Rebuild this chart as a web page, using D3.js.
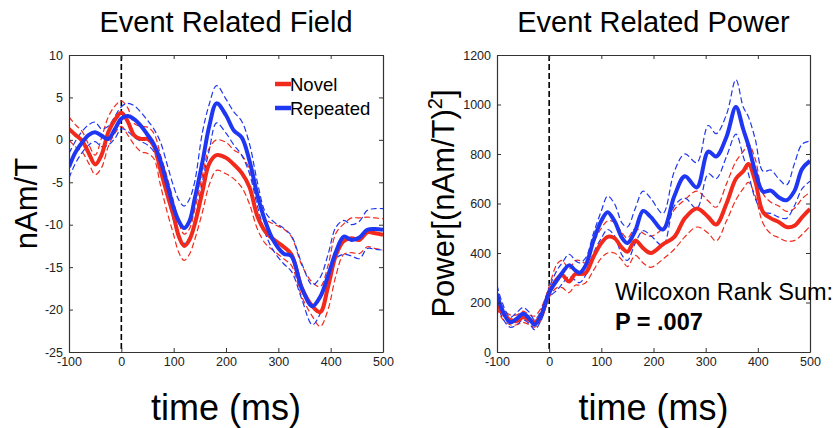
<!DOCTYPE html>
<html>
<head>
<meta charset="utf-8">
<script src="https://cdn.jsdelivr.net/npm/d3@7"></script>
<style>
  html, body { margin: 0; padding: 0; background: #fff; }
  svg { display: block; font-family: "Liberation Sans", Arial, sans-serif; }
</style>
</head>
<body>
<svg id="chart" width="836" height="428"></svg>
<script>
'use strict';

/* ---- Event Related Field (left) ---- */
var erfTime = [-100, -88, -75, -62, -50, -38, -25, -12, 0, 12, 25, 38, 50, 62, 75, 88, 100, 110, 120, 130,
  140, 155, 168, 182, 200, 215, 230, 245, 260, 275, 290, 310, 325, 345, 365, 380, 395, 410, 425, 440,
  455, 470, 485, 500];
var erfNovel = [1.3, 0.6, -0.1, -1.6, -2.9, -1.8, 0.9, 2.4, 3.2, 2.2, 0.5, 0.1, 0.1, -0.7, -3.6, -6.5, -9.0, -11.4, -12.5, -11.8,
  -10.0, -6.1, -2.8, -1.8, -2.1, -2.9, -3.9, -5.6, -9.0, -10.8, -11.7, -12.6, -13.5, -17.5, -19.6, -20.3, -17.3, -13.6, -11.9, -11.6,
  -11.8, -10.9, -11.0, -11.2];
var erfNovelHi = [2.7, 1.8, 1.0, -0.6, -1.8, 0.2, 2.7, 4.0, 4.6, 3.8, 1.9, 1.6, 1.5, 0.8, -1.8, -4.5, -7.3, -9.8, -11.1, -10.5,
  -8.3, -4.2, -1.0, 0.0, -0.3, -1.2, -1.8, -3.5, -7.0, -9.3, -9.9, -10.5, -11.4, -14.8, -16.8, -17.3, -14.8, -11.0, -9.9, -9.2,
  -9.2, -9.1, -9.2, -9.3];
var erfNovelLo = [0.0, -0.8, -1.4, -2.8, -4.1, -3.3, -0.8, 0.8, 1.6, 0.6, -0.6, -1.4, -1.6, -2.2, -5.4, -8.6, -11.2, -13.3, -14.2, -13.5,
  -11.8, -8.5, -5.3, -3.6, -4.0, -4.6, -5.6, -7.6, -10.5, -12.2, -13.0, -14.0, -14.8, -18.5, -20.8, -22.0, -20.0, -16.0, -13.5, -13.3,
  -13.4, -12.6, -12.8, -13.0];
var erfRepeated = [-3.2, -1.5, -0.3, 0.6, 0.9, 0.5, 0.1, 1.3, 2.5, 2.8, 2.4, 1.6, 0.6, -0.5, -2.5, -5.3, -8.0, -9.6, -10.4, -9.6,
  -7.0, -2.6, 1.6, 4.3, 2.9, 1.1, 0.3, -2.5, -6.5, -9.6, -11.8, -13.4, -13.7, -17.5, -19.6, -18.5, -16.0, -13.2, -11.4, -11.8,
  -11.5, -10.6, -10.5, -10.6];
var erfRepeatedHi = [-1.6, -0.2, 1.0, 1.8, 2.1, 1.3, 1.6, 2.8, 3.9, 4.3, 4.0, 3.2, 2.3, 1.3, -0.3, -3.0, -5.5, -7.1, -7.8, -7.0,
  -5.0, 0.9, 4.2, 6.4, 4.8, 3.3, 2.2, -0.5, -5.0, -8.5, -9.6, -10.4, -11.3, -14.6, -17.1, -16.2, -13.5, -10.3, -9.5, -10.0,
  -9.6, -8.3, -8.1, -8.1];
var erfRepeatedLo = [-4.5, -2.8, -1.5, -0.6, -0.2, -0.8, -0.6, 0.2, 1.3, 1.0, 0.3, -0.2, -0.6, -1.4, -3.8, -6.8, -9.5, -11.6, -12.2, -11.5,
  -9.5, -4.9, -1.2, 2.0, 0.8, -0.6, -1.8, -4.0, -7.8, -11.0, -13.0, -14.6, -15.5, -18.8, -21.8, -20.5, -17.8, -14.0, -13.5, -13.7,
  -14.0, -12.8, -12.9, -13.0];

/* ---- Event Related Power (right) ---- */
var erpTime = [-100, -90, -75, -62, -50, -38, -28, -15, 0, 15, 25, 38, 50, 58, 70, 85, 100, 112, 125, 140,
  150, 165, 180, 195, 218, 240, 260, 283, 305, 320, 340, 358, 372, 382, 395, 410, 425, 440, 455, 470,
  485, 500];
var erpNovel = [200, 160, 130, 125, 140, 130, 120, 150, 240, 295, 310, 285, 315, 315, 320, 385, 440, 465, 460, 420,
  405, 450, 420, 400, 435, 465, 540, 580, 545, 515, 600, 700, 730, 760, 690, 565, 540, 525, 505, 510,
  545, 578];
var erpNovelHi = [225, 180, 150, 150, 165, 150, 145, 180, 265, 355, 370, 335, 370, 370, 360, 440, 500, 530, 525, 480,
  460, 500, 480, 468, 500, 575, 615, 650, 610, 585, 680, 770, 810, 840, 780, 640, 605, 590, 568, 580,
  620, 645];
var erpNovelLo = [180, 135, 110, 110, 120, 110, 100, 130, 220, 260, 260, 240, 270, 270, 280, 330, 380, 400, 400, 370,
  345, 390, 360, 342, 375, 415, 465, 505, 480, 448, 530, 615, 660, 685, 630, 520, 478, 462, 448, 450,
  475, 508];
var erpRepeated = [235, 170, 120, 135, 155, 135, 110, 150, 240, 290, 320, 350, 330, 320, 350, 450, 530, 565, 530, 460,
  440, 490, 570, 545, 495, 630, 710, 665, 810, 790, 870, 990, 900, 835, 730, 648, 652, 625, 613, 650,
  740, 772];
var erpRepeatedHi = [270, 200, 140, 160, 180, 160, 130, 170, 260, 330, 360, 395, 370, 360, 380, 480, 570, 630, 600, 520,
  505, 580, 650, 620, 560, 730, 800, 765, 915, 882, 960, 1100, 990, 950, 860, 730, 735, 700, 675, 760,
  840, 852];
var erpRepeatedLo = [200, 140, 100, 110, 130, 115, 90, 130, 220, 250, 275, 305, 290, 280, 310, 400, 460, 495, 470, 390,
  370, 440, 490, 470, 430, 590, 622, 580, 720, 700, 790, 880, 790, 720, 620, 565, 560, 545, 540, 590,
  660, 690];

var timeTicks = [-100, 0, 100, 200, 300, 400, 500];
var erfTicks = [-25, -20, -15, -10, -5, 0, 5, 10];
var erpTicks = [0, 200, 400, 600, 800, 1000, 1200];
var legendLabels = ['Novel', 'Repeated'];

var RED = '#f22a1c';
var BLUE = '#1f36f2';

var svg = d3.select('#chart');

function zip(ts, vs) {
  return ts.map(function (t, i) { return [t, vs[i]]; });
}

// plain matlab-style numbers: hyphen minus, no thousands comma
function plain(d) {
  return String(d);
}

/**
 * Draws one MATLAB-like panel with box axes, inward ticks and curves.
 */
function drawPanel(opts) {
  var x = d3.scaleLinear().domain([-100, 500]).range([opts.left, opts.right]);
  var y = d3.scaleLinear().domain(opts.yDomain).range([opts.bottom, opts.top]);
  var g = svg.append('g');
  var clipId = 'clip-' + opts.id;

  g.append('clipPath').attr('id', clipId)
    .append('rect')
    .attr('x', opts.left).attr('y', opts.top)
    .attr('width', opts.right - opts.left).attr('height', opts.bottom - opts.top);

  var line = d3.line()
    .x(function (d) { return x(d[0]); })
    .y(function (d) { return y(d[1]); })
    .curve(d3.curveCatmullRom.alpha(0.5));

  var plot = g.append('g').attr('clip-path', 'url(#' + clipId + ')');

  // zero line
  plot.append('line')
    .attr('x1', x(0)).attr('x2', x(0))
    .attr('y1', opts.top).attr('y2', opts.bottom)
    .attr('stroke', '#000').attr('stroke-width', 1.6)
    .attr('stroke-dasharray', '6,3');

  opts.bands.forEach(function (b) {
    plot.append('path')
      .datum(zip(opts.time, b.values))
      .attr('d', line)
      .attr('fill', 'none')
      .attr('stroke', b.color)
      .attr('stroke-width', 1.2)
      .attr('stroke-dasharray', '6,3');
  });

  opts.means.forEach(function (m) {
    plot.append('path')
      .datum(zip(opts.time, m.values))
      .attr('d', line)
      .attr('fill', 'none')
      .attr('stroke', m.color)
      .attr('stroke-width', 4)
      .attr('stroke-linejoin', 'round');
  });

  // box axes, ticks inward on all sides
  var axB = d3.axisBottom(x).tickValues(timeTicks).tickFormat(plain).tickSizeInner(-4).tickSizeOuter(0).tickPadding(5);
  var axT = d3.axisTop(x).tickValues(timeTicks).tickSizeInner(-4).tickSizeOuter(0).tickFormat('');
  var axL = d3.axisLeft(y).tickValues(opts.yTicks).tickFormat(plain).tickSizeInner(-4).tickSizeOuter(0).tickPadding(6);
  var axR = d3.axisRight(y).tickValues(opts.yTicks).tickSizeInner(-4).tickSizeOuter(0).tickFormat('');

  function styleAxis(sel) {
    sel.select('.domain').attr('stroke', '#333').attr('stroke-width', 1.2);
    sel.selectAll('.tick line').attr('stroke', '#333');
    sel.selectAll('.tick text')
      .attr('fill', '#222')
      .style('font-size', '12.5px')
      .style('font-family', '"Liberation Sans", Arial, sans-serif');
  }

  g.append('g').attr('transform', 'translate(0,' + opts.bottom + ')').call(axB).call(styleAxis);
  g.append('g').attr('transform', 'translate(0,' + opts.top + ')').call(axT).call(styleAxis);
  g.append('g').attr('transform', 'translate(' + opts.left + ',0)').call(axL).call(styleAxis);
  g.append('g').attr('transform', 'translate(' + opts.right + ',0)').call(axR).call(styleAxis);

  var cx = (opts.left + opts.right) / 2;

  g.append('text')
    .attr('x', cx).attr('y', 32)
    .attr('text-anchor', 'middle')
    .style('font-size', '29px')
    .text(opts.title);

  g.append('text')
    .attr('x', cx).attr('y', 420)
    .attr('text-anchor', 'middle')
    .style('font-size', '36px')
    .text('time (ms)');

  var yl = g.append('text')
    .attr('transform', 'translate(' + opts.yLabelX + ',' + ((opts.top + opts.bottom) / 2) + ') rotate(-90)')
    .attr('text-anchor', 'middle')
    .style('font-size', '31px');
  opts.yLabel(yl);

  return {x: x, y: y, g: g};
}

drawPanel({
  id: 'erf',
  left: 69, right: 383, top: 55, bottom: 352,
  yDomain: [-25, 10], yTicks: erfTicks,
  time: erfTime,
  title: 'Event Related Field',
  yLabelX: 37,
  yLabel: function (t) { t.text('nAm/T'); },
  bands: [
    {values: erfNovelHi, color: RED}, {values: erfNovelLo, color: RED},
    {values: erfRepeatedHi, color: BLUE}, {values: erfRepeatedLo, color: BLUE}
  ],
  means: [{values: erfNovel, color: RED}, {values: erfRepeated, color: BLUE}]
});

drawPanel({
  id: 'erp',
  left: 497, right: 810, top: 55, bottom: 352,
  yDomain: [0, 1200], yTicks: erpTicks,
  time: erpTime,
  title: 'Event Related Power',
  yLabelX: 454,
  yLabel: function (t) {
    t.append('tspan').text('Power[(nAm/T)');
    t.append('tspan').attr('dy', -12).style('font-size', '20px').text('2');
    t.append('tspan').attr('dy', 12).text(']');
  },
  bands: [
    {values: erpNovelHi, color: RED}, {values: erpNovelLo, color: RED},
    {values: erpRepeatedHi, color: BLUE}, {values: erpRepeatedLo, color: BLUE}
  ],
  means: [{values: erpNovel, color: RED}, {values: erpRepeated, color: BLUE}]
});

// legend (left panel)
var legend = svg.append('g');
legend.selectAll('line')
  .data(legendLabels)
  .enter()
  .append('line')
    .attr('x1', 275).attr('x2', 291)
    .attr('y1', function (d, i) { return 84 + i * 24; })
    .attr('y2', function (d, i) { return 84 + i * 24; })
    .attr('stroke', function (d, i) { return i === 0 ? RED : BLUE; })
    .attr('stroke-width', 4.5);
legend.selectAll('text')
  .data(legendLabels)
  .enter()
  .append('text')
    .attr('x', 290)
    .attr('y', function (d, i) { return 91 + i * 24; })
    .style('font-size', '18.5px')
    .text(function (d) { return d; });

// stats annotation (right panel)
svg.append('text')
  .attr('x', 615).attr('y', 300)
  .style('font-size', '23.5px')
  .text('Wilcoxon Rank Sum:');
svg.append('text')
  .attr('x', 615).attr('y', 330)
  .style('font-size', '23.5px')
  .style('font-weight', 'bold')
  .text('P = .007');
</script>
</body>
</html>
